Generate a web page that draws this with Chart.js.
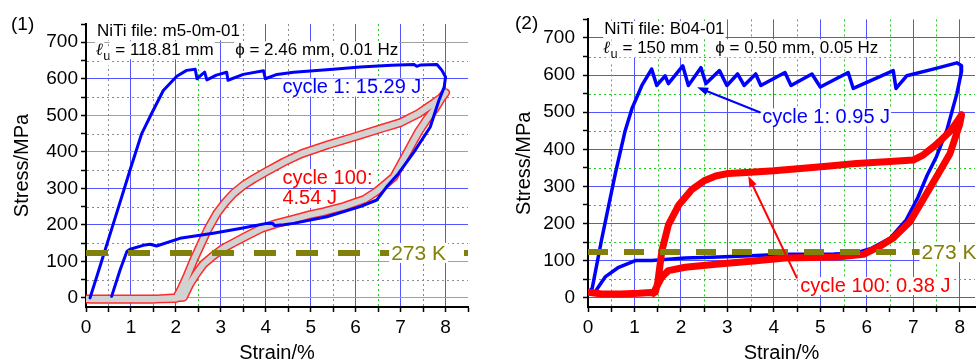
<!DOCTYPE html>
<html>
<head>
<meta charset="utf-8">
<script src="https://cdn.jsdelivr.net/npm/chart.js@4.4.1/dist/chart.umd.min.js"></script>
<style>
  body { margin: 0; background: #fff; width: 977px; height: 363px; position: relative; overflow: hidden; }
  canvas { position: absolute; top: 0; }
  #chart1 { left: 0; }
  #chart2 { left: 490px; }
</style>
</head>
<body>
<canvas id="chart1" width="480" height="363"></canvas>
<canvas id="chart2" width="487" height="363"></canvas>
<script>
// (1) NiTi file m5-0m-01
const p1Cycle1Strain = [0.09, 0.3, 0.6, 0.91, 0.98, 1.11, 1.24, 1.46, 1.72, 2.02, 2.24, 2.43, 2.47, 2.58, 2.64, 2.69, 2.9, 3.13, 3.16, 3.5, 3.95, 3.99, 4.25, 4.62, 5.5, 6.1, 6.8, 7.3, 7.36, 7.45, 7.81, 7.92, 8.0, 7.97, 7.85, 7.66, 7.3, 6.95, 6.69, 6.47, 6.1, 5.36, 4.62, 4.4, 4.2, 4.15, 4.02, 3.43, 2.83, 2.09, 1.57, 1.43, 1.31, 0.98, 0.91, 0.76, 0.57];
const p1Cycle1Stress = [0, 82, 200, 322, 350, 400, 450, 505, 568, 607, 623, 626, 600, 612, 618, 597, 610, 618, 596, 612, 622, 600, 612, 618, 626, 632, 637, 639, 634, 638, 639, 623, 605, 577, 540, 468, 400, 340, 304, 268, 250, 222, 204, 200, 198, 204, 204, 190, 177, 163, 142, 147, 145, 133, 127, 77, 4];
const p1Cycle100Strain = [0, 0.5, 1.0, 1.5, 2.0, 2.1, 2.25, 2.4, 2.54, 2.7, 2.91, 3.1, 3.28, 3.5, 3.73, 4.0, 4.4, 4.8, 5.4, 6.0, 6.6, 7.0, 7.4, 7.7, 7.9, 8.0, 7.9, 7.75, 7.59, 7.4, 7.2, 7.0, 6.85, 6.6, 6.47, 6.2, 5.73, 5.3, 4.99, 4.6, 4.25, 3.9, 3.58, 3.3, 3.06, 2.8, 2.61, 2.45, 2.32, 2.22, 2.17, 1.5, 0.8, 0.1];
const p1Cycle100Stress = [-3, -3, -3, -3, -2, 20, 60, 105, 142, 185, 231, 262, 286, 308, 326, 345, 372, 395, 420, 442, 465, 480, 505, 530, 548, 562, 545, 515, 490, 455, 410, 365, 331, 305, 292, 270, 250, 236, 228, 215, 204, 190, 170, 152, 136, 112, 92, 65, 40, 15, 2, -4, -4, -4];

// (2) NiTi file B04-01
const p2Cycle1Strain = [0.05, 0.09, 0.3, 0.59, 0.8, 0.95, 1.16, 1.37, 1.48, 1.66, 1.73, 2.04, 2.16, 2.43, 2.54, 2.83, 2.99, 3.22, 3.36, 3.61, 3.72, 4.24, 4.37, 4.82, 5.0, 5.6, 5.71, 6.57, 6.63, 6.86, 7.43, 7.94, 8.04, 8.04, 7.94, 7.72, 7.5, 7.3, 7.1, 6.85, 6.5, 6.1, 5.75, 5.3, 4.24, 3.5, 2.81, 2.09, 1.37, 1.02, 0.66, 0.37, 0.23, 0.16];
const p2Cycle1Stress = [20, 25, 161, 336, 450, 511, 572, 616, 572, 598, 577, 625, 572, 620, 577, 612, 572, 603, 572, 603, 572, 607, 572, 603, 568, 607, 564, 612, 564, 598, 616, 633, 625, 610, 550, 450, 380, 330, 270, 210, 160, 133, 120, 118, 117, 113, 110, 107, 100, 100, 82, 56, 30, 17];
const p2Cycle100Strain = [0, 0.3, 0.7, 1.1, 1.45, 1.5, 1.59, 1.73, 1.95, 2.24, 2.5, 2.75, 3.02, 3.5, 4.0, 4.64, 5.2, 5.78, 6.5, 7.0, 7.22, 7.43, 7.6, 7.79, 7.95, 8.04, 8.0, 7.79, 7.55, 7.22, 6.93, 6.57, 6.29, 5.93, 5.36, 4.24, 3.5, 2.81, 2.09, 1.73, 1.59, 1.48, 1.41];
const p2Cycle100Stress = [15, 10, 10, 12, 15, 40, 126, 196, 249, 292, 315, 328, 335, 338, 342, 349, 355, 362, 367, 371, 385, 406, 425, 448, 475, 493, 467, 388, 336, 266, 205, 161, 139, 117, 110, 107, 98, 91, 82, 73, 56, 30, 12];

const level273K = 123;
const strainTicks = [0, 1, 2, 3, 4, 5, 6, 7, 8];
const stressTicks = [0, 100, 200, 300, 400, 500, 600, 700];

const FONT = '"Liberation Sans", Arial, sans-serif';
const BLUE = '#0000ff';
const RED = '#ff0000';
const OLIVE = '#80800a';
const GRID_BLUE = '#5555ff';
const GRID_GRAY = '#a0a0a0';
const DOT_GREEN = '#22cc22';
const DOT_GRAY = '#8c8c8c';

function pts(xs, ys) {
  return xs.map((x, i) => ({x: x, y: ys[i]}));
}

function textBox(ctx, text, px, py, color, font) {
  ctx.font = font;
  const w = ctx.measureText(text).width;
  ctx.fillStyle = '#fff';
  ctx.fillRect(px - 1, py - 9, w + 2, 18);
  ctx.fillStyle = color;
  ctx.textBaseline = 'middle';
  ctx.textAlign = 'left';
  ctx.fillText(text, px, py);
  return w;
}

function arrow(ctx, x0, y0, x1, y1, color) {
  const a = Math.atan2(y1 - y0, x1 - x0);
  ctx.strokeStyle = color;
  ctx.fillStyle = color;
  ctx.lineWidth = 2;
  ctx.beginPath();
  ctx.moveTo(x0, y0);
  ctx.lineTo(x1 - 8 * Math.cos(a), y1 - 8 * Math.sin(a));
  ctx.stroke();
  ctx.beginPath();
  ctx.moveTo(x1, y1);
  ctx.lineTo(x1 - 11 * Math.cos(a) + 4 * Math.sin(a), y1 - 11 * Math.sin(a) - 4 * Math.cos(a));
  ctx.lineTo(x1 - 11 * Math.cos(a) - 4 * Math.sin(a), y1 - 11 * Math.sin(a) + 4 * Math.cos(a));
  ctx.closePath();
  ctx.fill();
}

function decor(cfg) {
  return {
    id: 'decor',
    beforeDatasetsDraw(chart) {
      const {ctx, chartArea: a, scales: {x, y}} = chart;
      ctx.save();
      ctx.lineWidth = 1;
      ctx.setLineDash([2, 3]);
      cfg.minorX.forEach(m => {
        const px = Math.round(x.getPixelForValue(m[0])) + 0.5;
        ctx.strokeStyle = m[1];
        ctx.beginPath(); ctx.moveTo(px, a.top); ctx.lineTo(px, a.bottom - 1); ctx.stroke();
      });
      cfg.minorY.forEach(m => {
        const py = Math.round(y.getPixelForValue(m[0])) + 0.5;
        ctx.strokeStyle = m[1];
        ctx.beginPath(); ctx.moveTo(a.left + 1, py); ctx.lineTo(a.right, py); ctx.stroke();
      });
      ctx.setLineDash([]);

      const f17 = '17px ' + FONT;
      textBox(ctx, cfg.file, x.getPixelForValue(cfg.head[0]), y.getPixelForValue(cfg.head[1]), '#000', f17);
      const lx = x.getPixelForValue(cfg.head[0]) - 1;
      const ly = y.getPixelForValue(cfg.head[2]);
      let w = textBox(ctx, 'ℓ', lx, ly, '#000', 'italic bold 17px "DejaVu Serif", serif');
      w += textBox(ctx, 'u', lx + w, ly + 6, '#000', '13px ' + FONT);
      textBox(ctx, cfg.lu, lx + w, ly, '#000', f17);
      textBox(ctx, cfg.phi, x.getPixelForValue(cfg.phiX), ly, '#000', f17);

      cfg.notes.forEach(n => {
        textBox(ctx, n.text, x.getPixelForValue(n.x), y.getPixelForValue(n.y), n.color, '20px ' + FONT);
      });
      ctx.restore();
    },
    afterDatasetsDraw(chart) {
      const {ctx, scales: {x, y}} = chart;
      ctx.save();
      cfg.arrows.forEach(r => {
        arrow(ctx, x.getPixelForValue(r.from[0]), y.getPixelForValue(r.from[1]),
          x.getPixelForValue(r.to[0]), y.getPixelForValue(r.to[1]), r.color);
      });
      ctx.font = '21px ' + FONT;
      const px = x.getPixelForValue(cfg.kX);
      const py = y.getPixelForValue(level273K);
      const w = ctx.measureText('273 K').width;
      ctx.fillStyle = '#fff';
      ctx.fillRect(px - 2, py - 10, w + 4, 20);
      ctx.fillStyle = OLIVE;
      ctx.textBaseline = 'middle';
      ctx.fillText('273 K', px, py + 1);
      ctx.font = '19px ' + FONT;
      ctx.fillStyle = '#000';
      ctx.fillText(cfg.tag, cfg.tagX, cfg.tagY);
      ctx.restore();
    }
  };
}

function makePanel(id, cfg) {
  const ctx = document.getElementById(id).getContext('2d');
  new Chart(ctx, {
    type: 'scatter',
    data: {datasets: cfg.datasets},
    plugins: [decor(cfg)],
    options: {
      responsive: false,
      animation: false,
      events: [],
      layout: {padding: {top: cfg.top, right: cfg.right, left: 0, bottom: 0}},
      plugins: {legend: {display: false}, tooltip: {enabled: false}},
      scales: {
        x: {
          type: 'linear', min: 0, max: cfg.xMax,
          afterFit: s => { s.height = 56; },
          border: {color: '#000', width: 2},
          grid: {
            color: c => (strainTicks.includes(c.tick.value) && c.tick.value > 0) ? GRID_BLUE : 'rgba(0,0,0,0)',
            tickColor: '#000', tickLength: 5, tickWidth: 1.5
          },
          ticks: {
            stepSize: 0.5, includeBounds: false, autoSkip: false, maxRotation: 0, padding: 4,
            color: '#000', font: {size: 19, family: FONT},
            callback: v => strainTicks.includes(v) ? String(v) : ''
          },
          title: {display: true, text: 'Strain/%', color: '#000', font: {size: 20, family: FONT}, padding: {top: 0, bottom: -2}}
        },
        y: {
          type: 'linear', min: -25, max: 750,
          afterFit: s => { s.width = cfg.yWidth; },
          border: {color: '#000', width: 2},
          grid: {
            color: c => cfg.yGrid[c.tick.value] || 'rgba(0,0,0,0)',
            tickColor: '#000', tickLength: 5, tickWidth: 1.5
          },
          ticks: {
            stepSize: 50, includeBounds: false, autoSkip: false, padding: cfg.yPad,
            color: '#000', font: {size: 19, family: FONT},
            callback: v => stressTicks.includes(v) ? String(v) : ''
          },
          title: {display: true, text: 'Stress/MPa', color: '#000', font: {size: 20, family: FONT}, padding: {top: cfg.yTitlePad, bottom: 0}}
        }
      }
    }
  });
}

function line(data, color, width, extra) {
  return Object.assign({
    data: data, showLine: true, borderColor: color, borderWidth: width,
    pointRadius: 0, fill: false, tension: 0, borderJoinStyle: 'round', borderCapStyle: 'round'
  }, extra || {});
}

function refLine(xMax, dash) {
  return line([{x: 0, y: level273K}, {x: xMax, y: level273K}], OLIVE, 6, {borderDash: dash, borderCapStyle: 'butt'});
}

const p1Cycle100 = pts(p1Cycle100Strain, p1Cycle100Stress);
makePanel('chart1', {
  xMax: 8.5, top: 24, right: 12, yWidth: 86, yPad: 3, yTitlePad: 10,
  datasets: [
    refLine(8.5, [22, 20]),
    line(pts(p1Cycle1Strain, p1Cycle1Stress), BLUE, 3),
    line(p1Cycle100, '#d2d2d2', 6),
    line(p1Cycle100, '#ff2a2a', 9)
  ],
  yGrid: {0: GRID_GRAY, 100: GRID_GRAY, 200: GRID_BLUE, 300: GRID_BLUE, 400: GRID_GRAY, 500: GRID_GRAY, 600: GRID_BLUE, 700: GRID_GRAY},
  minorX: [[0.5, DOT_GRAY], [1.5, DOT_GRAY], [2.5, DOT_GREEN], [3.5, DOT_GREEN], [4.5, DOT_GRAY], [5.5, DOT_GRAY], [6.5, DOT_GREEN], [7.5, DOT_GREEN]],
  minorY: [[50, DOT_GRAY], [150, DOT_GRAY], [250, DOT_GREEN], [350, DOT_GRAY], [450, DOT_GRAY], [550, DOT_GREEN], [650, DOT_GRAY]],
  file: 'NiTi file: m5-0m-01', head: [0.245, 730, 678], lu: ' = 118.81 mm', phi: 'ϕ = 2.46 mm, 0.01 Hz', phiX: 3.32,
  notes: [
    {text: 'cycle 1: 15.29 J', x: 4.37, y: 576, color: BLUE},
    {text: 'cycle 100:', x: 4.37, y: 328, color: RED},
    {text: '4.54 J', x: 4.37, y: 271, color: RED}
  ],
  arrows: [],
  kX: 6.79, tag: '(1)', tagX: 11, tagY: 25
});

makePanel('chart2', {
  xMax: 8.33, top: 12, right: 2, yWidth: 98, yPad: 8, yTitlePad: 22,
  datasets: [
    refLine(8.33, [20, 16]),
    line(pts(p2Cycle100Strain, p2Cycle100Stress), RED, 7),
    line(pts(p2Cycle1Strain, p2Cycle1Stress), BLUE, 3.5)
  ],
  yGrid: {0: GRID_BLUE, 100: GRID_BLUE, 200: GRID_BLUE, 300: GRID_BLUE, 400: GRID_BLUE, 500: GRID_BLUE, 600: GRID_BLUE, 700: GRID_BLUE},
  minorX: [0.5, 1.5, 2.5, 3.5, 4.5, 5.5, 6.5, 7.5].map(v => [v, DOT_GREEN]),
  minorY: [50, 150, 250, 350, 450, 550, 650].map(v => [v, DOT_GREEN]),
  file: 'NiTi file: B04-01', head: [0.35, 722, 672], lu: ' = 150 mm', phi: 'ϕ = 0.50 mm, 0.05 Hz', phiX: 2.74,
  notes: [
    {text: 'cycle 1: 0.95 J', x: 3.75, y: 486, color: BLUE},
    {text: 'cycle 100: 0.38 J', x: 4.57, y: 31.5, color: RED}
  ],
  arrows: [
    {from: [3.71, 499], to: [2.35, 567], color: BLUE},
    {from: [4.5, 52], to: [3.45, 328], color: RED}
  ],
  kX: 7.18, tag: '(2)', tagX: 25, tagY: 24
});
</script>
</body>
</html>
